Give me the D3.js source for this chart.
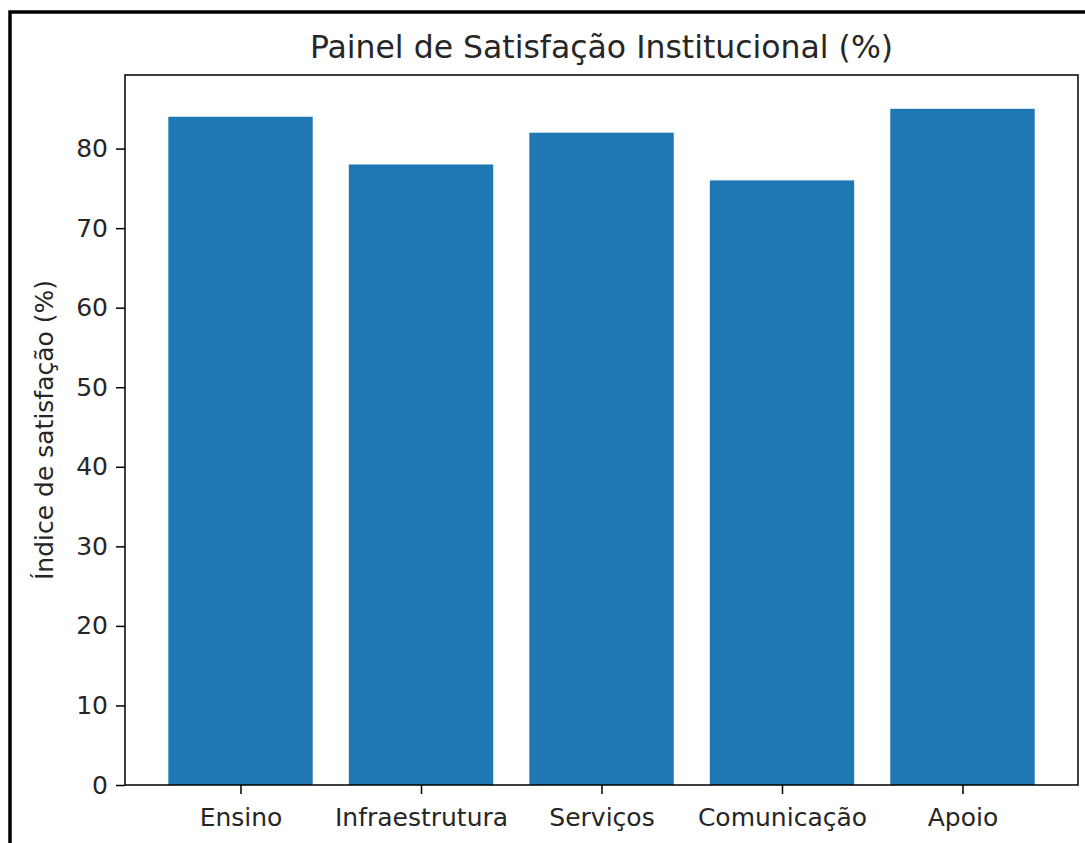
<!DOCTYPE html>
<html lang="pt">
<head>
  <meta charset="UTF-8">
  <title>Painel de Satisfação Institucional</title>
  <style>
    body {
        margin: 0;
        background-color: white;
    }
    svg text {
        font-family: "DejaVu Sans", sans-serif;
        fill: #262626;
    }
  </style>
  <script src="https://cdn.jsdelivr.net/npm/d3@7"></script>
</head>
<body>
    <svg width="1085" height="843"></svg>
    <script>
    var categories = ["Ensino", "Infraestrutura", "Serviços", "Comunicação", "Apoio"];
    var values = [84, 78, 82, 76, 85];
    var yTicks = [0, 10, 20, 30, 40, 50, 60, 70, 80];

    var svg = d3.select("svg");

    // outer frame (cut off by the picture edge on the right and bottom)
    svg.append("rect")
        .attr("x", 10).attr("y", 12)
        .attr("width", 1100).attr("height", 900)
        .attr("fill", "white")
        .attr("stroke", "black")
        .attr("stroke-width", 3.5);

    var plotL = 125, plotR = 1078, plotT = 75, plotB = 785;
    var tickFont = 25;

    var x = d3.scaleLinear()
        .domain([-0.64, categories.length - 1 + 0.64])
        .range([plotL, plotR]);

    var y = d3.scaleLinear()
        .domain([0, d3.max(values) * 1.05])
        .range([plotB, plotT]);

    var barW = x(0.8) - x(0);

    svg.append("g")
        .selectAll("rect")
        .data(values)
        .enter().append("rect")
            .attr("x", function(d, i) { return x(i) - barW / 2; })
            .attr("y", function(d) { return y(d); })
            .attr("width", barW)
            .attr("height", function(d) { return y(0) - y(d); })
            .attr("fill", "#1f77b4");

    var yAxis = svg.append("g")
        .attr("transform", "translate(" + plotL + ",0)")
        .call(d3.axisLeft(y).tickValues(yTicks).tickSize(9).tickPadding(8));

    var xAxis = svg.append("g")
        .attr("transform", "translate(0," + plotB + ")")
        .call(d3.axisBottom(x)
            .tickValues(d3.range(categories.length))
            .tickFormat(function(i) { return categories[i]; })
            .tickSize(9).tickPadding(14));

    [yAxis, xAxis].forEach(function(g) {
        g.select(".domain").remove();
        g.selectAll("text").attr("font-size", tickFont).attr("font-family", "DejaVu Sans").attr("fill", "#262626");
        g.selectAll("line").attr("stroke", "black").attr("stroke-width", 1.5);
    });

    // axes box
    svg.append("rect")
        .attr("x", plotL).attr("y", plotT)
        .attr("width", plotR - plotL).attr("height", plotB - plotT)
        .attr("fill", "none")
        .attr("stroke", "black")
        .attr("stroke-width", 1.5);

    svg.append("text")
        .attr("x", (plotL + plotR) / 2)
        .attr("y", 58)
        .attr("text-anchor", "middle")
        .attr("font-size", 31.5)
        .text("Painel de Satisfação Institucional (%)");

    svg.append("text")
        .attr("transform", "translate(53," + (plotT + plotB) / 2 + ") rotate(-90)")
        .attr("text-anchor", "middle")
        .attr("font-size", tickFont)
        .text("Índice de satisfação (%)");
    </script>
</body>
</html>
